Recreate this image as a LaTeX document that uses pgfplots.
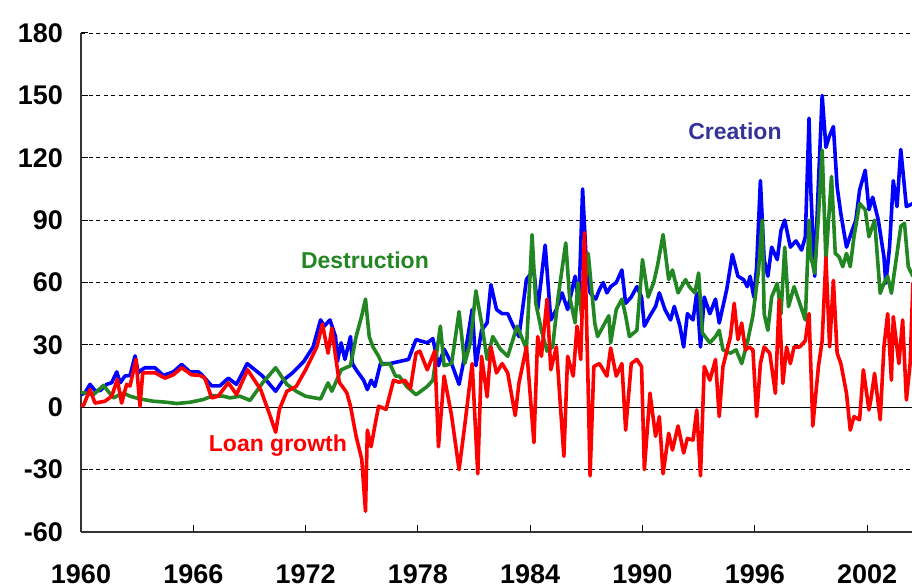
\documentclass[border=0pt]{standalone}
\usepackage{pgfplots}
\pgfplotsset{compat=1.18}
\usepackage{fontspec}
\setmainfont{Liberation Sans}
\definecolor{cblue}{RGB}{0,0,255}
\definecolor{cgreen}{RGB}{34,134,34}
\definecolor{cred}{RGB}{255,0,0}
\definecolor{clabel}{RGB}{51,51,153}
\begin{document}
\begin{tikzpicture}
\begin{axis}[
  scale only axis, width=831bp, height=499bp,
  xmin=1960, xmax=2004.4, ymin=-60, ymax=180,
  axis x line=bottom, axis y line=left,
  axis line style={-, line width=1.3bp, black!80},
  xtick={1960,1966,1972,1978,1984,1990,1996,2002},
  xticklabels={1960,1966,1972,1978,1984,1990,1996,2002},
  ytick={-60,-30,0,30,60,90,120,150,180},
  yticklabels={-60,-30,0,30,60,90,120,150,180},
  ymajorgrids, grid style={black, dash pattern=on 4bp off 3.5bp, line width=0.9bp},
  tick align=inside, major tick length=7bp, tick style={black, line width=1bp},
  xticklabel style={font=\bfseries\fontsize{27bp}{27bp}\selectfont, anchor=base, yshift=-51bp, inner sep=0pt},
  yticklabel style={font=\bfseries\fontsize{27bp}{27bp}\selectfont, anchor=east, xshift=-18bp, inner sep=0pt},
  clip=true,
]
\addplot[black, line width=1.2bp, forget plot] coordinates {(1960,0) (2004.4,0)};
% Creation
\addplot[cblue, line width=3.6bp, line join=round] coordinates {
(1960.0,6) (1960.22,7) (1960.48,11) (1960.75,8) (1961.02,8) (1961.37,11) (1961.64,11.8) (1961.91,17) (1962.09,11.8) (1962.35,15) (1962.62,15.3) (1962.89,24.7) (1963.06,16.6) (1963.24,18) (1963.42,19) (1963.95,19) (1964.4,15.3) (1964.93,17) (1965.38,20.6) (1965.82,17) (1966.27,17) (1966.44,15.8) (1966.98,10.3) (1967.42,10.3) (1967.87,14) (1968.31,11) (1968.88,21) (1969.7,15) (1970.4,7.7) (1970.8,13) (1971.3,16.5) (1971.9,22) (1972.4,29) (1972.8,42) (1973.0,39) (1973.3,42) (1973.6,34) (1973.7,22) (1973.9,31) (1974.1,23) (1974.4,34) (1974.5,21) (1974.7,18) (1975.1,13) (1975.3,8.5) (1975.5,13) (1975.7,10) (1976.0,21) (1976.5,21) (1977.0,22) (1977.5,23) (1977.9,32.6) (1978.1,32) (1978.5,31) (1978.8,33) (1979.1,20) (1979.4,28) (1979.8,21) (1980.2,11) (1980.5,24.5) (1980.9,47) (1981.1,20) (1981.4,37) (1981.7,40.6) (1981.9,59) (1982.2,47) (1982.5,45) (1982.8,45) (1983.1,39) (1983.4,34) (1983.8,61.5) (1984.2,66) (1984.4,47) (1984.8,78) (1985.1,42) (1985.4,47) (1985.7,55) (1986.0,47) (1986.4,63) (1986.6,50) (1986.8,105) (1987.0,69.5) (1987.2,55) (1987.5,52) (1987.7,56.6) (1987.9,60) (1988.1,55) (1988.3,58) (1988.6,60) (1988.9,66) (1989.1,50) (1989.4,53) (1989.7,58) (1989.95,53) (1990.1,39) (1990.4,44) (1990.7,48.5) (1990.9,55) (1991.2,47) (1991.5,42) (1991.7,48.5) (1992.0,39) (1992.2,29) (1992.4,45) (1992.7,42) (1992.9,55) (1993.1,29) (1993.3,53) (1993.6,45) (1993.9,52) (1994.1,40.5) (1994.5,56.6) (1994.8,73.5) (1995.1,63) (1995.4,61.4) (1995.6,58) (1995.75,63) (1995.95,53) (1996.1,67.6) (1996.3,109) (1996.5,71) (1996.7,63) (1996.9,77) (1997.2,71) (1997.4,85) (1997.6,90) (1997.9,77) (1998.2,80) (1998.5,75.6) (1998.7,82) (1998.9,139) (1999.0,103) (1999.2,63) (1999.4,107.7) (1999.6,150) (1999.8,125) (1999.97,130) (2000.2,135) (2000.4,106) (2000.6,93) (2000.9,77) (2001.2,85) (2001.4,90) (2001.6,104.5) (2001.9,114) (2002.1,95) (2002.3,101) (2002.6,90) (2002.9,72.4) (2003.0,59.6) (2003.2,77) (2003.4,109) (2003.6,96.5) (2003.8,124) (2004.1,96.5) (2004.45,98)
};
% Destruction
\addplot[cgreen, line width=3.6bp, line join=round] coordinates {
(1960.0,7) (1960.13,7) (1960.66,6) (1961.2,10.5) (1961.73,4.5) (1962.26,6.9) (1962.62,5.3) (1963.15,4) (1963.86,2.9) (1964.58,2.4) (1965.11,1.8) (1965.82,2.4) (1966.53,3.7) (1967.07,5.6) (1967.6,5.3) (1967.96,4.5) (1968.49,5.3) (1969.03,3.3) (1969.7,11.7) (1970.4,19) (1971.0,11) (1971.5,7.7) (1972.0,5.3) (1972.8,4) (1973.2,11.7) (1973.4,7.7) (1973.6,11.7) (1973.9,18) (1974.4,20) (1974.7,34) (1975.0,44) (1975.2,52) (1975.4,34) (1975.6,29) (1975.9,24.5) (1976.1,20.5) (1976.5,21) (1976.8,15) (1977.0,15) (1977.4,10) (1977.9,6) (1978.5,10) (1978.8,13) (1979.2,39) (1979.4,20) (1979.8,21) (1980.2,46) (1980.5,21) (1980.8,31) (1981.1,56) (1981.4,40.6) (1981.7,23) (1982.0,34) (1982.4,28) (1982.8,24.5) (1983.3,39) (1983.8,28) (1984.1,83) (1984.3,50) (1984.6,37) (1984.9,27) (1985.2,29) (1985.5,53.5) (1985.9,79) (1986.1,53.5) (1986.4,40.6) (1986.55,60) (1986.75,44) (1987.1,74) (1987.45,40.5) (1987.6,34) (1987.9,39) (1988.2,44) (1988.3,31) (1988.6,47) (1988.9,52) (1989.1,44) (1989.3,34) (1989.7,37) (1990.0,71) (1990.3,53) (1990.6,60) (1990.8,68) (1991.1,83) (1991.4,61.4) (1991.6,66) (1991.9,55) (1992.3,61.4) (1992.5,58) (1992.8,55) (1993.0,64.6) (1993.2,35.7) (1993.6,31) (1993.9,34) (1994.1,37) (1994.3,27.6) (1994.7,26) (1995.0,27.6) (1995.3,21) (1995.6,31) (1995.9,44) (1996.2,66) (1996.4,90) (1996.5,45) (1996.7,37) (1996.9,53) (1997.2,59.6) (1997.4,45) (1997.6,77) (1997.8,48.4) (1998.1,58) (1998.4,50) (1998.7,42) (1998.9,90) (1999.0,72.4) (1999.2,64.4) (1999.4,91.7) (1999.6,123.7) (1999.8,70.8) (2000.1,111) (2000.3,74) (2000.5,72.4) (2000.7,67.6) (2000.9,74) (2001.1,67.6) (2001.3,82) (2001.6,98) (2001.9,95) (2002.1,82) (2002.4,90) (2002.7,54.8) (2002.9,59.6) (2003.1,63) (2003.3,54.8) (2003.6,74) (2003.8,87) (2004.0,88.5) (2004.2,67.6) (2004.45,63)
};
% Loan growth
\addplot[cred, line width=3.6bp, line join=round] coordinates {
(1960.0,1) (1960.13,0.8) (1960.48,8.5) (1960.75,2) (1961.28,2.9) (1961.64,5.3) (1961.94,13.4) (1962.17,2) (1962.44,11) (1962.62,10.2) (1962.94,23) (1963.15,0.5) (1963.3,16.6) (1963.51,16.6) (1963.95,16.6) (1964.49,14) (1964.93,15.6) (1965.38,19) (1965.91,15.6) (1966.36,15.3) (1966.62,14) (1966.98,4.5) (1967.33,5.3) (1967.87,11.8) (1968.31,6.1) (1968.9,18) (1969.6,8.5) (1970.1,-4) (1970.4,-12) (1970.6,-1) (1971.0,7.7) (1971.5,10) (1972.0,18) (1972.6,29) (1972.9,40) (1973.2,26) (1973.4,38) (1973.6,24.5) (1973.8,12) (1974.2,7) (1974.4,0.5) (1974.7,-14) (1975.0,-25) (1975.2,-50) (1975.3,-11) (1975.5,-19) (1975.7,-9) (1975.9,0.5) (1976.3,-1) (1976.7,13) (1977.0,12) (1977.3,13) (1977.6,9) (1977.9,26) (1978.1,27) (1978.5,18) (1978.9,27) (1979.1,-19) (1979.4,15) (1979.8,-4) (1980.2,-30) (1980.5,-9) (1980.9,21) (1981.2,-32) (1981.4,24.5) (1981.7,5) (1981.9,29) (1982.2,16.5) (1982.5,21) (1982.8,16.5) (1983.2,-4) (1983.4,11.7) (1983.8,29) (1984.2,-17) (1984.4,34) (1984.6,24.5) (1984.9,52) (1985.1,18) (1985.4,29) (1985.8,-23.6) (1986.0,24.5) (1986.3,15) (1986.5,39) (1986.7,23) (1986.9,84) (1987.1,8.5) (1987.2,-33) (1987.4,19.6) (1987.7,21) (1988.1,15) (1988.3,28.5) (1988.6,15) (1988.9,21) (1989.1,-11) (1989.4,21) (1989.7,23) (1989.95,19.6) (1990.1,-30) (1990.4,6.8) (1990.7,-14) (1990.9,-4.5) (1991.1,-32) (1991.4,-12.5) (1991.6,-20.6) (1991.9,-9) (1992.2,-22) (1992.4,-15) (1992.7,-15.8) (1992.9,-1.3) (1993.1,-33) (1993.3,19.6) (1993.6,13) (1993.9,23) (1994.1,-4.5) (1994.3,19.6) (1994.7,34) (1994.9,50) (1995.1,32.5) (1995.3,40.5) (1995.5,27.6) (1995.7,29) (1995.9,27.6) (1996.1,-4.5) (1996.3,21) (1996.5,29) (1996.8,26) (1997.1,6.7) (1997.3,51.6) (1997.5,11.5) (1997.7,29) (1997.9,21) (1998.1,29) (1998.4,29) (1998.7,32) (1998.9,45) (1999.1,-9) (1999.4,19.6) (1999.6,32) (1999.8,72) (2000.0,29) (2000.2,61) (2000.4,26) (2000.6,21) (2000.9,6.7) (2001.1,-11) (2001.3,-4.5) (2001.6,-6) (2001.8,18) (2002.1,-1.3) (2002.2,3.5) (2002.4,16.3) (2002.7,-6) (2002.9,29) (2003.1,45) (2003.3,13) (2003.4,43.6) (2003.7,21) (2003.9,42) (2004.1,3.5) (2004.3,21) (2004.45,60)
};
\node[anchor=base west, inner sep=0pt, font=\bfseries\fontsize{26bp}{26bp}\selectfont] at (rel axis cs:0,1) [yshift=6bp] {Billions of dollars};
\node[text=clabel, font=\bfseries\fontsize{23bp}{23bp}\selectfont] at (axis cs:1994.94,132.9) {Creation};
\node[text=cgreen, font=\bfseries\fontsize{23bp}{23bp}\selectfont] at (axis cs:1975.17,70.8) {Destruction};
\node[text=cred, font=\bfseries\fontsize{23bp}{23bp}\selectfont] at (axis cs:1970.52,-18.3) {Loan growth};
\end{axis}
\pgfresetboundingbox
\path[use as bounding box] (-81bp,-56bp) rectangle (831bp,532bp);
\end{tikzpicture}
\end{document}
